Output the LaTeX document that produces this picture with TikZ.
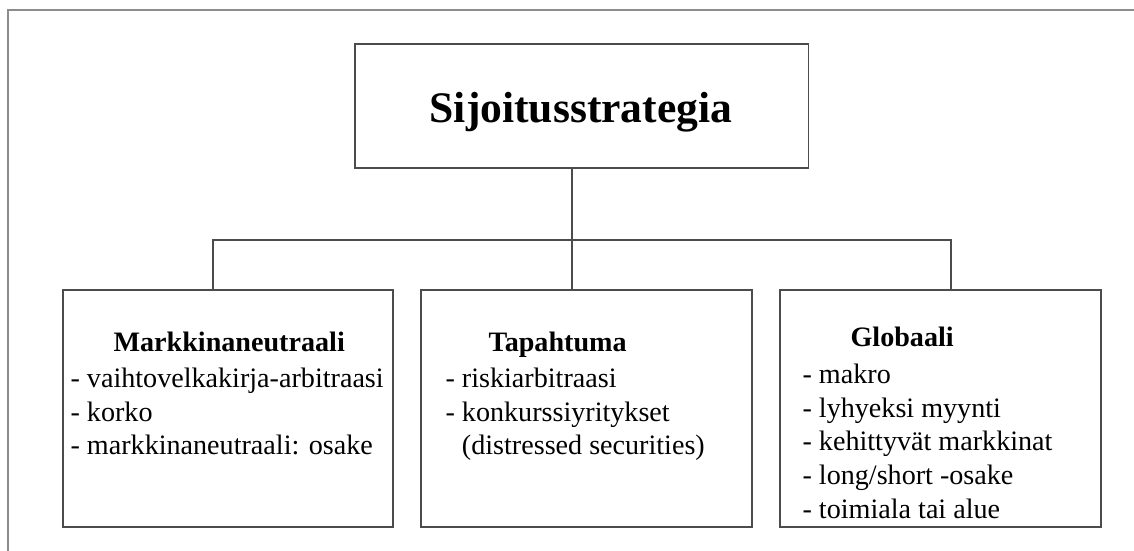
\documentclass[tikz,border=0pt]{standalone}
\usepackage{fontspec}
\setmainfont{Liberation Serif}
\begin{document}
\begin{tikzpicture}[
        x=0.025cm, y=-0.025cm,
        line width=0.8pt,
        box/.style={draw=black!70, inner sep=0pt},
        head/.style={font=\fontsize{20}{24}\selectfont\bfseries, anchor=base west, inner sep=0pt},
        items/.style={font=\fontsize{20}{24}\selectfont, align=left, anchor=north west, inner sep=0pt},
        every node/.style={text=black}
    ]
    \useasboundingbox (0,0) rectangle (1134,551);

    % Frame
    \draw[black!45, line width=1.2pt] (8,551) -- (8,10) -- (1134,10);

    % Boxes
    \node[box, minimum width=11.325cm, minimum height=3.1cm] (strat) at (581.5,106) {};
    \node[box, minimum width=8.25cm, minimum height=5.925cm] (markk) at (228,408.5) {};
    \node[box, minimum width=8.275cm, minimum height=5.925cm] (tapaht) at (586.5,408.5) {};
    \node[box, minimum width=8.025cm, minimum height=5.925cm] (glob) at (940.5,408.5) {};

    % Title
    \node[font=\fontsize{31}{36}\selectfont\bfseries, anchor=base, inner sep=0pt]
      (strath) at (581,123) {Sijoitusstrategia};

    % Headings
    \node[head] (markkh) at (113,352) {Markkinaneutraali};
    \node[head] (tapahth) at (488,352) {Tapahtuma};
    \node[head] (globh) at (850,347) {Globaali};

    % Lists
    \node[items] (markkl) at (70,363.3)
      {\strut- vaihtovelkakirja-arbitraasi\\- korko\\- markkinaneutraali: osake};
    \node[items] (tapahtl) at (445,363.3)
      {\strut- riskiarbitraasi\\- konkurssiyritykset\\\hphantom{- }(distressed securities)};
    \node[items] (globl) at (802,359.3)
      {\strut- makro\\- lyhyeksi myynti\\- kehittyvät markkinat\\- long/short -osake\\- toimiala tai alue};

    % Connectors
    \coordinate (hub) at (572,240);
    \coordinate (jl) at (213,240);
    \coordinate (jr) at (951,240);
    \draw[black!70] (strat.south -| hub) -- (hub);
    \draw[black!70] (markk.north -| jl) -- (jl) -- (jr) -- (glob.north -| jr);
    \draw[black!70] (hub) -- (tapaht.north -| hub);
\end{tikzpicture}
\end{document}
